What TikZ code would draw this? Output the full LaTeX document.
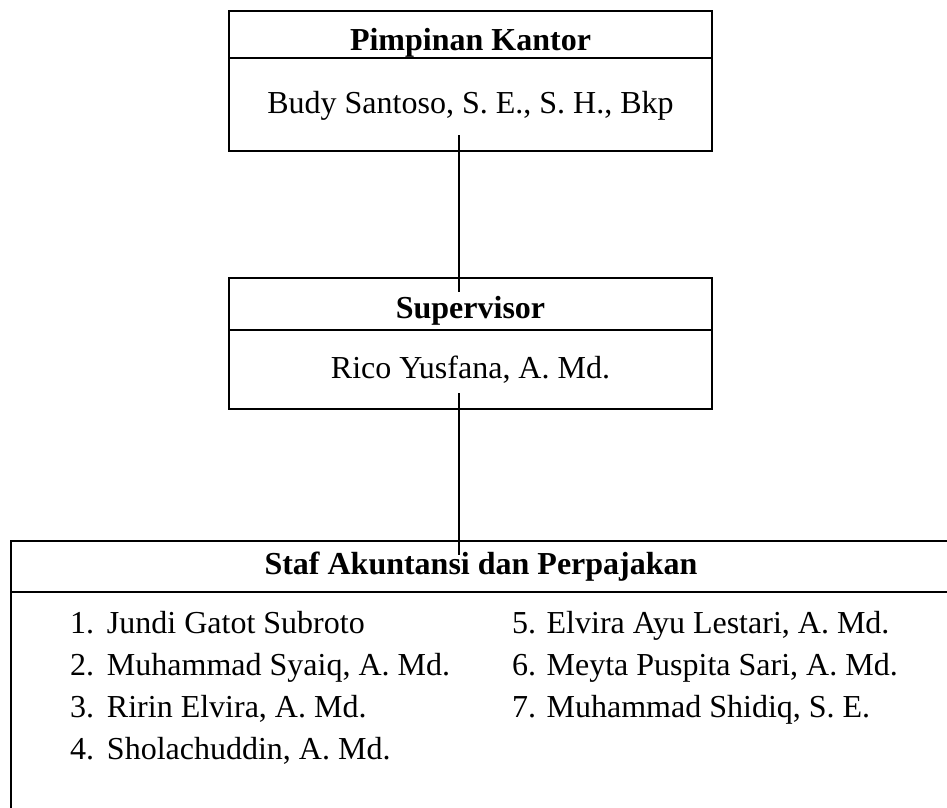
\documentclass[tikz,border=0pt]{standalone}
\usepackage{fontspec}
\setmainfont{Liberation Serif}
\begin{document}
\begin{tikzpicture}[x=1pt,y=-1pt,
  every node/.style={font=\fontsize{32}{38}\selectfont, inner sep=0pt, outer sep=0pt},
  orgbox/.style={draw, line width=2pt, rectangle},
  ttltext/.style={anchor=base, font=\fontsize{32}{38}\selectfont\bfseries},
  nmtext/.style={anchor=base},
  itmtext/.style={anchor=base west},
  divline/.style={line width=1.6pt},
  connline/.style={line width=1.2pt}]
\useasboundingbox (0,0) rectangle (947,807);
\fill[white] (0,0) rectangle (947,807);

% boxes
\node[orgbox, minimum width=483pt, minimum height=140pt] (pk) at (470.5,81) {};
\node[orgbox, minimum width=483pt, minimum height=131pt] (sv) at (470.5,343.5) {};
\node[orgbox, minimum width=949pt, minimum height=279pt] (st) at (485.5,680.5) {};

% dividers
\draw[divline] (pk.west |- 0,58) -- (pk.east |- 0,58);
\draw[divline] (sv.west |- 0,330) -- (sv.east |- 0,330);
\draw[divline] (st.west |- 0,592) -- (st.east |- 0,592);

% texts
\node[ttltext] (pkt) at (470.5,50) {Pimpinan Kantor};
\node[nmtext] (pkn) at (470.5,113) {Budy Santoso, S. E., S. H., Bkp};
\node[ttltext] (svt) at (470.5,318) {Supervisor};
\node[nmtext] (svn) at (470.5,378) {Rico Yusfana, A. Md.};
\node[ttltext] (stt) at (481,574) {Staf Akuntansi dan Perpajakan};

\node[itmtext] (s1) at (70,633) {\makebox[37pt][l]{1.}Jundi Gatot Subroto};
\node[itmtext] (s2) at (70,675) {\makebox[37pt][l]{2.}Muhammad Syaiq, A. Md.};
\node[itmtext] (s3) at (70,717) {\makebox[37pt][l]{3.}Ririn Elvira, A. Md.};
\node[itmtext] (s4) at (70,759) {\makebox[37pt][l]{4.}Sholachuddin, A. Md.};
\node[itmtext] (s5) at (512,633) {5. Elvira Ayu Lestari, A. Md.};
\node[itmtext] (s6) at (512,675) {6. Meyta Puspita Sari, A. Md.};
\node[itmtext] (s7) at (512,717) {7. Muhammad Shidiq, S. E.};

% connectors
\coordinate (c1a) at (459,135);
\coordinate (c1b) at (459,292);
\coordinate (c2a) at (459,393);
\coordinate (c2b) at (459,555);
\draw[connline] (c1a) -- (c1b);
\draw[connline] (c2a) -- (c2b);
\end{tikzpicture}
\end{document}
